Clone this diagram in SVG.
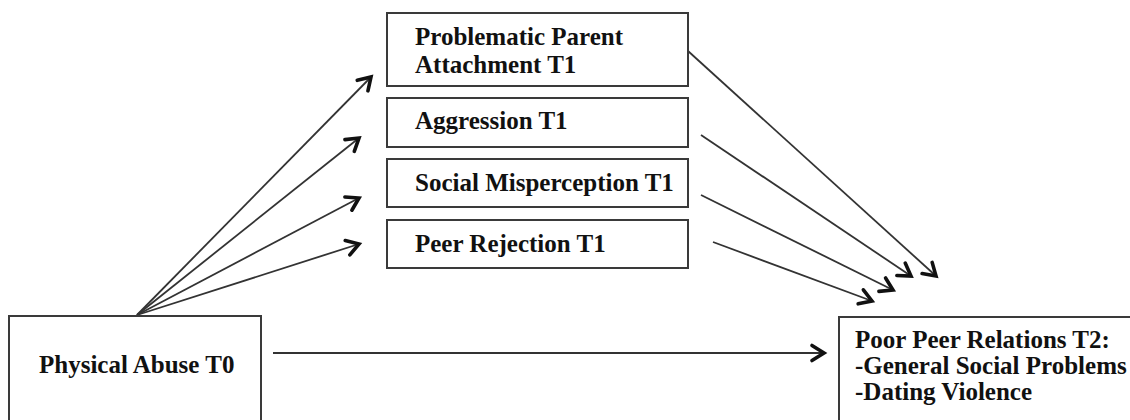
<svg xmlns="http://www.w3.org/2000/svg" width="1130" height="420" viewBox="0 0 1130 420">
<defs>
<style>
.box{fill:#fff;stroke:#3a3a3a;stroke-width:2}
.lbl{font-family:"Liberation Serif","Times New Roman",serif;font-weight:bold;font-size:25px;fill:#111}
.ln{stroke:#333;stroke-width:1.8;fill:none;marker-end:url(#ah)}
</style>
<marker id="ah" markerUnits="userSpaceOnUse" markerWidth="24" markerHeight="24" viewBox="-16 -12 24 24" refX="0" refY="0" orient="auto">
<path d="M-12,-7.5 L0,0 L-12,7.5" fill="none" stroke="#111" stroke-width="3.6" stroke-linejoin="miter" stroke-linecap="round"/>
</marker>
</defs>
<rect width="1130" height="420" fill="#fff"/>
<g id="connectors">
<line class="ln" x1="137" y1="315" x2="371" y2="77"/>
<line class="ln" x1="137" y1="315" x2="359" y2="138"/>
<line class="ln" x1="137" y1="315" x2="359" y2="198"/>
<line class="ln" x1="137" y1="315" x2="359" y2="244"/>
<line class="ln" x1="688" y1="51" x2="936" y2="276"/>
<line class="ln" x1="701" y1="135" x2="911" y2="276"/>
<line class="ln" x1="701" y1="195" x2="893" y2="290"/>
<line class="ln" x1="713" y1="242" x2="872" y2="301"/>
<line class="ln" x1="273" y1="353" x2="824" y2="353"/>
</g>
<g id="n-parent">
<rect class="box" x="387" y="13" width="301" height="73"/>
<text class="lbl" x="415" y="45">Problematic Parent</text>
<text class="lbl" x="415" y="73">Attachment T1</text>
</g>
<g id="n-aggression">
<rect class="box" x="387" y="98" width="301" height="49"/>
<text class="lbl" x="415" y="129">Aggression T1</text>
</g>
<g id="n-misperception">
<rect class="box" x="387" y="159" width="301" height="48"/>
<text class="lbl" x="415" y="191">Social Misperception T1</text>
</g>
<g id="n-rejection">
<rect class="box" x="387" y="220" width="301" height="48"/>
<text class="lbl" x="415" y="252">Peer Rejection T1</text>
</g>
<g id="n-abuse">
<rect class="box" x="9" y="316" width="252" height="130"/>
<text class="lbl" x="39" y="373">Physical Abuse T0</text>
</g>
<g id="n-outcome">
<rect class="box" x="839" y="317" width="320" height="130"/>
<text class="lbl" x="855" y="348">Poor Peer Relations T2:</text>
<text class="lbl" x="855" y="374">-General Social Problems</text>
<text class="lbl" x="855" y="400">-Dating Violence</text>
</g>
</svg>
